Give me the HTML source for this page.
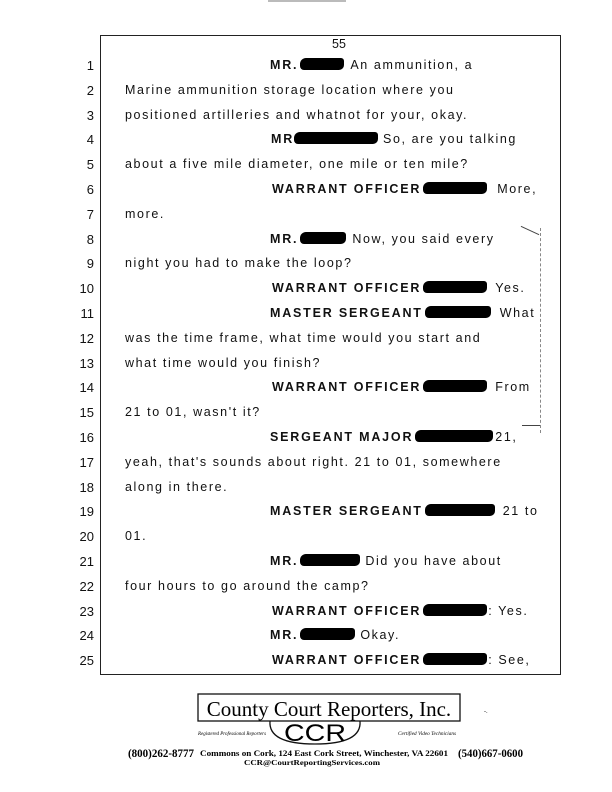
<!DOCTYPE html>
<html><head><style>
body{margin:0;width:612px;height:792px;background:#fff;position:relative;overflow:hidden;font-family:"Liberation Sans",sans-serif;color:#111}
.box{position:absolute;left:100px;top:35px;width:459px;height:638px;border:1.5px solid #222;border-top-width:1px}
.n{position:absolute;left:70px;width:24px;text-align:right;font-size:13px}
.t{position:absolute;font-size:12.5px;letter-spacing:1.6px;white-space:nowrap;line-height:14px}
.b{font-weight:bold;letter-spacing:1.8px}
.r{display:inline-block;background:#000;height:12px;border-radius:6px 3px 5px 4px;vertical-align:-1px}
</style></head><body>
<div style="position:absolute;left:268px;top:0;width:78px;height:2px;background:#bbb"></div>
<div class="box"></div>
<div class="t" style="left:332px;top:37px;letter-spacing:0">55</div>
<div style="position:absolute;left:540px;top:228px;width:1px;height:205px;border-left:1px dashed #888"></div>
<div style="position:absolute;left:522px;top:425px;width:18px;height:1px;background:#444"></div>
<div style="position:absolute;left:520px;top:230px;width:20px;height:1px;background:#444;transform:rotate(25deg)"></div>

<div class="n" style="top:58px">1</div><div class="t" style="left:270px;top:58px"><span class="b">MR.</span><span class="r" style="width:44px;margin:0 6px 0 2px"></span>An ammunition, a</div>
<div class="n" style="top:83px">2</div><div class="t" style="left:125px;top:83px">Marine ammunition storage location where you</div>
<div class="n" style="top:108px">3</div><div class="t" style="left:125px;top:108px">positioned artilleries and whatnot for your, okay.</div>
<div class="n" style="top:132px">4</div><div class="t" style="left:271px;top:132px"><span class="b">MR</span><span class="r" style="width:84px;margin:0 5px 0 0"></span>So, are you talking</div>
<div class="n" style="top:157px">5</div><div class="t" style="left:125px;top:157px">about a five mile diameter, one mile or ten mile?</div>
<div class="n" style="top:182px">6</div><div class="t" style="left:272px;top:182px"><span class="b">WARRANT OFFICER</span><span class="r" style="width:64px;margin:0 10px 0 2px"></span>More,</div>
<div class="n" style="top:207px">7</div><div class="t" style="left:125px;top:207px">more.</div>
<div class="n" style="top:232px">8</div><div class="t" style="left:270px;top:232px"><span class="b">MR.</span><span class="r" style="width:46px;margin:0 6px 0 2px"></span>Now, you said every</div>
<div class="n" style="top:256px">9</div><div class="t" style="left:125px;top:256px">night you had to make the loop?</div>
<div class="n" style="top:281px">10</div><div class="t" style="left:272px;top:281px"><span class="b">WARRANT OFFICER</span><span class="r" style="width:64px;margin:0 8px 0 2px"></span>Yes.</div>
<div class="n" style="top:306px">11</div><div class="t" style="left:270px;top:306px"><span class="b">MASTER SERGEANT</span><span class="r" style="width:66px;margin:0 9px 0 2px"></span>What</div>
<div class="n" style="top:331px">12</div><div class="t" style="left:125px;top:331px">was the time frame, what time would you start and</div>
<div class="n" style="top:356px">13</div><div class="t" style="left:125px;top:356px">what time would you finish?</div>
<div class="n" style="top:380px">14</div><div class="t" style="left:272px;top:380px"><span class="b">WARRANT OFFICER</span><span class="r" style="width:64px;margin:0 8px 0 2px"></span>From</div>
<div class="n" style="top:405px">15</div><div class="t" style="left:125px;top:405px">21 to 01, wasn't it?</div>
<div class="n" style="top:430px">16</div><div class="t" style="left:270px;top:430px"><span class="b">SERGEANT MAJOR</span><span class="r" style="width:78px;margin:0 2px 0 2px"></span>21,</div>
<div class="n" style="top:455px">17</div><div class="t" style="left:125px;top:455px">yeah, that's sounds about right. 21 to 01, somewhere</div>
<div class="n" style="top:480px">18</div><div class="t" style="left:125px;top:480px">along in there.</div>
<div class="n" style="top:504px">19</div><div class="t" style="left:270px;top:504px"><span class="b">MASTER SERGEANT</span><span class="r" style="width:70px;margin:0 8px 0 2px"></span>21 to</div>
<div class="n" style="top:529px">20</div><div class="t" style="left:125px;top:529px">01.</div>
<div class="n" style="top:554px">21</div><div class="t" style="left:270px;top:554px"><span class="b">MR.</span><span class="r" style="width:60px;margin:0 5px 0 2px"></span>Did you have about</div>
<div class="n" style="top:579px">22</div><div class="t" style="left:125px;top:579px">four hours to go around the camp?</div>
<div class="n" style="top:604px">23</div><div class="t" style="left:272px;top:604px"><span class="b">WARRANT OFFICER</span><span class="r" style="width:64px;margin:0 1px 0 2px"></span>: Yes.</div>
<div class="n" style="top:628px">24</div><div class="t" style="left:270px;top:628px"><span class="b">MR.</span><span class="r" style="width:55px;margin:0 5px 0 2px"></span>Okay.</div>
<div class="n" style="top:653px">25</div><div class="t" style="left:272px;top:653px"><span class="b">WARRANT OFFICER</span><span class="r" style="width:64px;margin:0 1px 0 2px"></span>: See,</div>

<svg style="position:absolute;left:0;top:0" width="612" height="792">
<rect x="198" y="694" width="262" height="27" fill="none" stroke="#111" stroke-width="1.3"/>
<path d="M270 721 Q268 744 315 744 Q362 744 360 721" fill="none" stroke="#111" stroke-width="1.3"/>
<text x="329" y="716" text-anchor="middle" font-family="Liberation Serif,serif" font-size="21">County Court Reporters, Inc.</text>
<text x="315" y="741" text-anchor="middle" font-family="Liberation Sans,sans-serif" font-size="24" textLength="62" lengthAdjust="spacingAndGlyphs">CCR</text>
<text x="198" y="735" font-family="Liberation Serif,serif" font-style="italic" font-size="5.5" textLength="68" lengthAdjust="spacingAndGlyphs">Registered Professional Reporters</text>
<text x="398" y="735" font-family="Liberation Serif,serif" font-style="italic" font-size="5.5" textLength="58" lengthAdjust="spacingAndGlyphs">Certified Video Technicians</text>
<text x="484" y="713" font-size="6">-.</text>
<text x="128" y="757" font-family="Liberation Serif,serif" font-weight="bold" font-size="11.5" textLength="66" lengthAdjust="spacingAndGlyphs">(800)262-8777</text>
<text x="200" y="756" font-family="Liberation Serif,serif" font-weight="bold" font-size="8.3" textLength="248" lengthAdjust="spacingAndGlyphs">Commons on Cork, 124 East Cork Street, Winchester, VA  22601</text>
<text x="458" y="757" font-family="Liberation Serif,serif" font-weight="bold" font-size="11.5" textLength="65" lengthAdjust="spacingAndGlyphs">(540)667-0600</text>
<text x="312" y="765" text-anchor="middle" font-family="Liberation Serif,serif" font-weight="bold" font-size="7.6" textLength="136" lengthAdjust="spacingAndGlyphs">CCR@CourtReportingServices.com</text>
</svg>
</body></html>
